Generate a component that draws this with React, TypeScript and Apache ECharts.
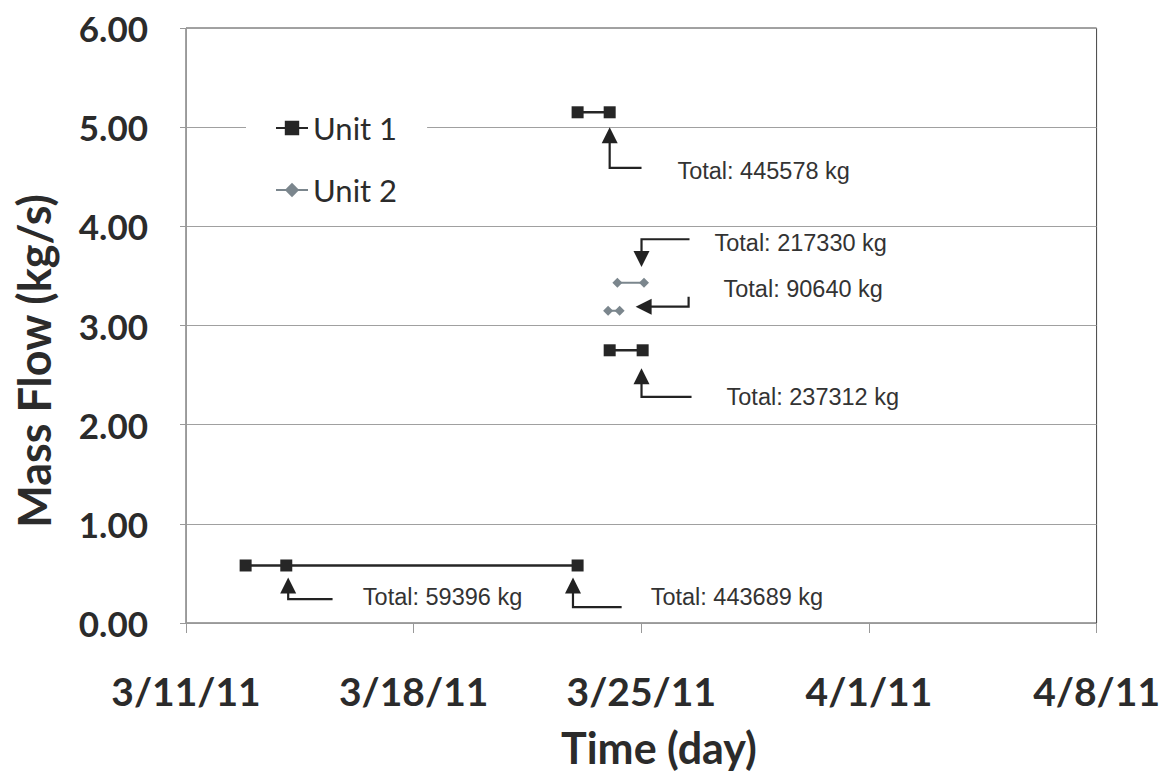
import React, { useEffect, useRef } from "react";
import * as echarts from "echarts";

// ---- data ----
const BASE_DATE = "2011-03-11T00:00";
const X_MAX_DAYS = 28;
const X_INTERVAL_DAYS = 7;
const Y_TICKS = [0, 1, 2, 3, 4, 5, 6];

const seriesNames = ["Unit 1", "Unit 2"];

// Unit 1: three separate runs
const unit1Times = [
  ["2011-03-12T20:00", "2011-03-14T02:00", "2011-03-23T01:00"],
  ["2011-03-23T01:00", "2011-03-24T00:40"],
  ["2011-03-24T00:40", "2011-03-25T01:00"],
];
const unit1Values = [
  [0.58, 0.58, 0.58],
  [5.15, 5.15],
  [2.75, 2.75],
];

// Unit 2: two separate runs
const unit2Times = [
  ["2011-03-23T23:30", "2011-03-24T08:00"],
  ["2011-03-24T06:20", "2011-03-25T02:00"],
];
const unit2Values = [
  [3.15, 3.15],
  [3.43, 3.43],
];

// Annotations: arrow tip, elbow, tail end and label anchor, in data space
const annotationLabels = [
  "Total: 59396 kg",
  "Total: 443689 kg",
  "Total: 445578 kg",
  "Total: 217330 kg",
  "Total: 90640 kg",
  "Total: 237312 kg",
];
const arrowTips: [string, number][] = [
  ["2011-03-14T03:25", 0.46],
  ["2011-03-22T21:35", 0.46],
  ["2011-03-24T00:40", 5.0],
  ["2011-03-25T00:10", 3.59],
  ["2011-03-24T19:50", 3.19],
  ["2011-03-25T00:10", 2.57],
];
const arrowCorners: [string, number][] = [
  ["2011-03-14T03:25", 0.24],
  ["2011-03-22T21:35", 0.16],
  ["2011-03-24T00:40", 4.59],
  ["2011-03-25T00:10", 3.87],
  ["2011-03-26T10:55", 3.19],
  ["2011-03-25T00:10", 2.28],
];
const arrowEnds: [string, number][] = [
  ["2011-03-15T12:10", 0.24],
  ["2011-03-24T09:30", 0.16],
  ["2011-03-25T00:10", 4.59],
  ["2011-03-26T11:35", 3.87],
  ["2011-03-26T10:55", 3.29],
  ["2011-03-26T13:05", 2.28],
];
const labelAnchors: [string, number][] = [
  ["2011-03-16T10:30", 0.26],
  ["2011-03-25T06:55", 0.265],
  ["2011-03-26T02:40", 4.56],
  ["2011-03-27T06:00", 3.83],
  ["2011-03-27T12:40", 3.37],
  ["2011-03-27T14:55", 2.28],
];

// ---- helpers ----
const DAY_MS = 86400000;
const dayOf = (s: string) =>
  (Date.parse(s + ":00Z") - Date.parse(BASE_DATE + ":00Z")) / DAY_MS;

const fmtDate = (d: number) => {
  const dt = new Date(Date.parse(BASE_DATE + ":00Z") + Math.round(d) * DAY_MS);
  const yy = String(dt.getUTCFullYear()).slice(2);
  return `${dt.getUTCMonth() + 1}/${dt.getUTCDate()}/${yy}`;
};

const buildSegments = (times: string[][], values: number[][]) => {
  const out: any[] = [];
  times.forEach((seg, i) => {
    if (i > 0) out.push([dayOf(seg[0]), "-"]);
    seg.forEach((t, j) => out.push([dayOf(t), values[i][j]]));
  });
  return out;
};

const annotationData = annotationLabels.map((_, i) => [
  dayOf(arrowTips[i][0]), arrowTips[i][1],
  dayOf(arrowCorners[i][0]), arrowCorners[i][1],
  dayOf(arrowEnds[i][0]), arrowEnds[i][1],
  dayOf(labelAnchors[i][0]), labelAnchors[i][1],
]);

export default function App() {
  const ref = useRef<HTMLDivElement>(null);

  useEffect(() => {
    if (!ref.current) return;
    const chart = echarts.init(ref.current, null, { renderer: "svg" });

    const renderAnnotation = (params: any, api: any) => {
      const tip = api.coord([api.value(0), api.value(1)]);
      const corner = api.coord([api.value(2), api.value(3)]);
      const end = api.coord([api.value(4), api.value(5)]);
      const txt = api.coord([api.value(6), api.value(7)]);
      const dx = tip[0] - corner[0];
      const dy = tip[1] - corner[1];
      const len = Math.sqrt(dx * dx + dy * dy) || 1;
      const ux = dx / len;
      const uy = dy / len;
      const headLen = 16;
      const headHalf = 8;
      const bx = tip[0] - ux * headLen;
      const by = tip[1] - uy * headLen;
      const px = -uy;
      const py = ux;
      return {
        type: "group",
        children: [
          {
            type: "polyline",
            shape: { points: [end, corner, [bx + ux * 2, by + uy * 2]] },
            style: { stroke: "#222", lineWidth: 2.2, fill: "none" },
          },
          {
            type: "polygon",
            shape: {
              points: [
                tip,
                [bx + px * headHalf, by + py * headHalf],
                [bx - px * headHalf, by - py * headHalf],
              ],
            },
            style: { fill: "#222" },
          },
          {
            type: "text",
            x: txt[0],
            y: txt[1],
            style: {
              text: annotationLabels[params.dataIndex],
              fill: "#333",
              font: "23.5px 'Liberation Sans', Arial, sans-serif",
              align: "left",
              verticalAlign: "middle",
              textAlign: "left",
              textVerticalAlign: "middle",
            },
          },
        ],
      };
    };

    chart.setOption({
      animation: false,
      backgroundColor: "#fff",
      grid: {
        left: 186,
        right: 66,
        top: 28,
        bottom: 152,
        show: true,
        borderColor: "#444",
        borderWidth: 1,
      },
      legend: {
        data: seriesNames,
        orient: "vertical",
        left: 246,
        top: 93,
        backgroundColor: "#fff",
        padding: [18, 30, 15, 29],
        itemGap: 28,
        itemWidth: 32,
        itemHeight: 18,
        textStyle: {
          fontFamily: "Lato",
          fontSize: 31,
          color: "#2b2b2b",
          lineHeight: 34,
        },
      },
      xAxis: {
        type: "value",
        min: 0,
        max: X_MAX_DAYS,
        interval: X_INTERVAL_DAYS,
        axisLine: { show: true, lineStyle: { color: "#999", width: 1 } },
        axisTick: { show: true, length: 10, lineStyle: { color: "#999" } },
        splitLine: { show: false },
        axisLabel: {
          formatter: (v: number) => fmtDate(v),
          fontFamily: "Lato",
          fontWeight: "bold",
          fontSize: 39,
          color: "#2b2b2b",
          margin: 48,
        },
      },
      yAxis: {
        type: "value",
        min: Y_TICKS[0],
        max: Y_TICKS[Y_TICKS.length - 1],
        interval: 1,
        axisLine: { show: true, lineStyle: { color: "#999", width: 1 } },
        axisTick: { show: true, length: 6, lineStyle: { color: "#999" } },
        splitLine: { show: true, lineStyle: { color: "#a0a0a0", width: 1 } },
        axisLabel: {
          formatter: (v: number) => v.toFixed(2),
          fontFamily: "Lato",
          fontWeight: "bold",
          fontSize: 35,
          color: "#2b2b2b",
          margin: 38,
        },
      },
      graphic: [
        {
          type: "text",
          x: 34,
          y: 361,
          rotation: Math.PI / 2,
          style: {
            text: "Mass Flow (kg/s)",
            font: "bold 45px Lato",
            fill: "#2b2b2b",
            align: "center",
            verticalAlign: "middle",
            textAlign: "center",
            textVerticalAlign: "middle",
          },
        },
        {
          type: "text",
          x: 659,
          y: 747,
          style: {
            text: "Time (day)",
            font: "bold 43px Lato",
            fill: "#2b2b2b",
            align: "center",
            verticalAlign: "middle",
            textAlign: "center",
            textVerticalAlign: "middle",
          },
        },
      ],
      series: [
        {
          name: seriesNames[0],
          type: "line",
          data: buildSegments(unit1Times, unit1Values),
          symbol: "rect",
          symbolSize: 12,
          connectNulls: false,
          itemStyle: { color: "#262626" },
          lineStyle: { color: "#262626", width: 2.5 },
          z: 3,
        },
        {
          name: seriesNames[1],
          type: "line",
          data: buildSegments(unit2Times, unit2Values),
          symbol: "diamond",
          symbolSize: 10,
          connectNulls: false,
          itemStyle: { color: "#7b868d" },
          lineStyle: { color: "#7b868d", width: 2 },
          z: 3,
        },
        {
          name: "annotations",
          type: "custom",
          renderItem: renderAnnotation,
          data: annotationData,
          encode: { x: [0, 2, 4, 6], y: [1, 3, 5, 7] },
          clip: false,
          silent: true,
          z: 4,
        },
      ],
    });

    return () => chart.dispose();
  }, []);

  return (
    <div
      ref={ref}
      style={{ position: "fixed", left: 0, top: 0, width: 1163, height: 775 }}
    />
  );
}
